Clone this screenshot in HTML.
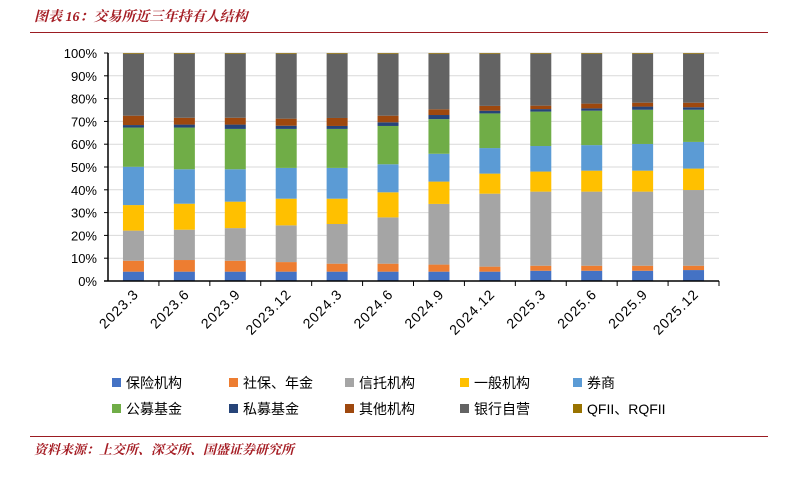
<!DOCTYPE html>
<html><head><meta charset="utf-8">
<style>
body{margin:0;background:#fff;font-family:"Liberation Sans","Noto Sans CJK SC",sans-serif;}
#wrap{position:relative;width:790px;height:490px;overflow:hidden;}
.title{position:absolute;left:34px;top:6px;font-size:14px;font-style:italic;font-weight:bold;color:#a51d24;font-family:"Liberation Serif","Noto Serif CJK SC",serif;}
.rule{position:absolute;left:30px;width:738px;height:1px;background:#9b1c22;}
.src{position:absolute;left:34px;top:439px;font-size:13px;font-style:italic;font-weight:bold;color:#a51d24;font-family:"Liberation Serif","Noto Serif CJK SC",serif;}
</style></head><body>
<div id="wrap">
<div class="title">图表 16：交易所近三年持有人结构</div>
<div class="rule" style="top:32px"></div>
<svg id="chart" width="790" height="490" style="position:absolute;left:0;top:0"></svg>
<div class="rule" style="top:436px"></div>
<div class="src">资料来源：上交所、深交所、国盛证券研究所</div>
</div>
<script>
const categories=["2023.3","2023.6","2023.9","2023.12","2024.3","2024.6","2024.9","2024.12","2025.3","2025.6","2025.9","2025.12"];
const seriesNames=["保险机构","社保、年金","信托机构","一般机构","券商","公募基金","私募基金","其他机构","银行自营","QFII、RQFII"];
const insurance=[4.1,4.1,4.1,4.1,4.1,4.1,4.1,4.1,4.5,4.5,4.5,4.8];
const social=[4.8,5.1,4.8,4.2,3.5,3.5,3.1,2.2,2.2,2.2,2.2,1.9];
const trust=[13.2,13.3,14.3,16.1,17.4,20.3,26.6,32,32.5,32.5,32.5,33.2];
const general=[11.2,11.4,11.6,11.7,11.1,11,9.8,8.8,8.8,9.2,9.2,9.4];
const broker=[16.8,15.1,14.2,13.5,13.5,12.3,12.2,11.2,11.2,11.2,11.7,11.7];
const publicFund=[17.2,18.3,17.7,17.1,17.1,16.8,15.2,15.2,15.1,15.1,15,14.1];
const privateFund=[1.1,1.3,1.9,1.4,1.3,1.6,1.8,1.2,1.1,1,1.4,1.1];
const others=[4.1,3,3,3.1,3.5,2.9,2.5,2.1,1.5,2.1,1.7,2];
const bank=[27.2,28.1,28.1,28.5,28.2,27.2,24.4,22.9,22.8,21.9,21.5,21.5];
const qfii=[0.3,0.3,0.3,0.3,0.3,0.3,0.3,0.3,0.3,0.3,0.3,0.3];
const yTicks=[0,10,20,30,40,50,60,70,80,90,100];

const series=[insurance,social,trust,general,broker,publicFund,privateFund,others,bank,qfii];
const colors=["#4472c4","#ed7d31","#a5a5a5","#ffc000","#5b9bd5","#70ad47","#264478","#9e480e","#636363","#997300"];
const X0=108,X1=719,Y0=281,Y1=53;
const svg=document.getElementById('chart');
const NS="http://www.w3.org/2000/svg";
const bw=(X1-X0)/categories.length;
const x=i=>X0+bw*(i+0.5);
const y=v=>Y0-(Y0-Y1)*v/100;
function el(t,a){const e=document.createElementNS(NS,t);for(const k in a)e.setAttribute(k,a[k]);svg.appendChild(e);return e;}
yTicks.forEach(t=>{
  if(t>0){const g=el('line',{x1:X0,x2:X1,y1:y(t),y2:y(t),stroke:'#d9d9d9','stroke-width':1});
  
  }
  const tk=el('line',{x1:X0-4,x2:X0,y1:y(t),y2:y(t),stroke:'#000'});
  
  
  const tx=el('text',{x:X0-11,y:y(t)+5,'text-anchor':'end','font-size':13,fill:'#000'});
  tx.textContent=t+'%';
  
  
});
categories.forEach((c,i)=>{
  let cum=0;
  series.forEach((s,k)=>{
    const r=el('rect',{x:x(i)-10.5,y:y(cum+s[i]),width:21,height:y(cum)-y(cum+s[i]),fill:colors[k]});
    
    
    cum+=s[i];
  });
  const tk=el('line',{x1:X0+bw*(i+1),x2:X0+bw*(i+1),y1:Y0,y2:Y0+5,stroke:'#000'});
  
  
  const tx=el('text',{x:x(i)+6,y:Y0+14,'text-anchor':'end','font-size':14,fill:'#000',transform:`rotate(-45 ${x(i)+6} ${Y0+14})`,'letter-spacing':'1'});
  tx.textContent=c;
  
  
});
const ax=el('line',{x1:X0,x2:X0,y1:Y1,y2:Y0,stroke:'#000','stroke-width':1.5});


const axx=el('line',{x1:X0-4,x2:X1,y1:Y0,y2:Y0,stroke:'#000','stroke-width':1.5});


const lx=[112,229,345,460,573];
seriesNames.forEach((n,k)=>{
  const lxx=lx[k%5],ly=k<5?383:409;
  const m=el('rect',{x:lxx,y:ly-5,width:9,height:9,fill:colors[k]});
  
  
  const t=el('text',{x:lxx+14,y:ly+5,'font-size':14,fill:'#000'});
  t.textContent=n;
  
  
});
</script>
</body></html>
